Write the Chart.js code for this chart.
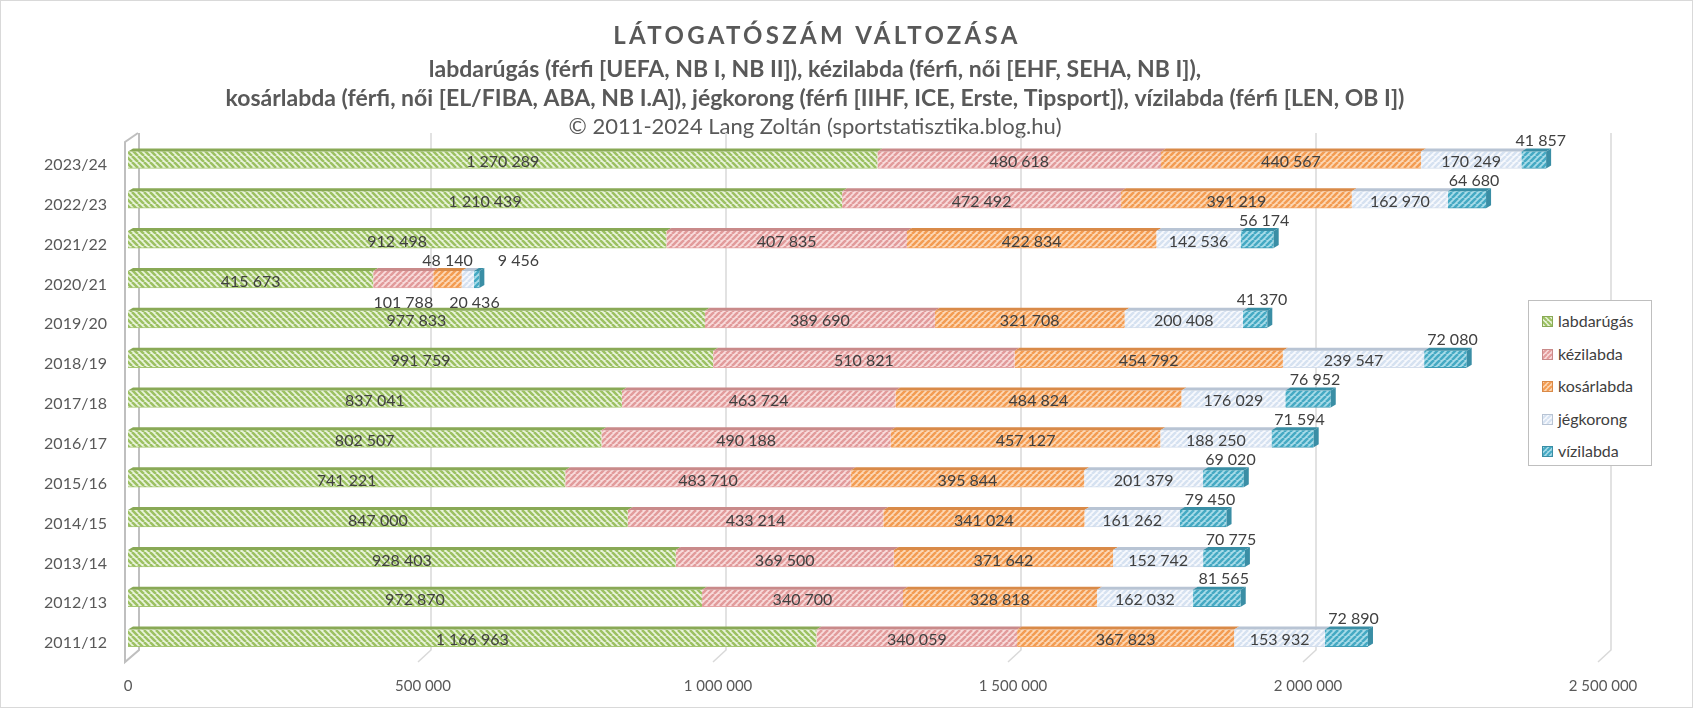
<!DOCTYPE html>
<html>
<head>
<meta charset="utf-8">
<script src="https://cdn.jsdelivr.net/npm/chart.js@4.4.1/dist/chart.umd.min.js"></script>
<style>
  html, body { margin: 0; padding: 0; background: #fff; }
  #wrap { position: relative; width: 1693px; height: 708px; }
  #legend { position: absolute; left: 1528px; top: 300px; width: 122px; height: 164px;
    border: 1.5px solid #bfbfbf; background: #fff; font-family: Lato, sans-serif; font-size: 16px; color: #404040; }
  .li { position: absolute; left: 13px; height: 20px; line-height: 20px; white-space: nowrap; }
  .li canvas { position: absolute; left: 0; top: 4px; }
  .li span { position: absolute; left: 16px; top: -1px; }
</style>
</head>
<body>
<div id="wrap">
  <canvas id="c" width="1693" height="708"></canvas>
  <div id="legend"></div>
</div>
<script>
// ---- data ----
const seasons = ['2023/24','2022/23','2021/22','2020/21','2019/20','2018/19','2017/18','2016/17','2015/16','2014/15','2013/14','2012/13','2011/12'];
const seriesNames = ['labdarúgás','kézilabda','kosárlabda','jégkorong','vízilabda'];
const labdarugas = [1270289,1210439,912498,415673,977833,991759,837041,802507,741221,847000,928403,972870,1166963];
const kezilabda  = [480618,472492,407835,101788,389690,510821,463724,490188,483710,433214,369500,340700,340059];
const kosarlabda = [440567,391219,422834,48140,321708,454792,484824,457127,395844,341024,371642,328818,367823];
const jegkorong  = [170249,162970,142536,20436,200408,239547,176029,188250,201379,161262,152742,162032,153932];
const vizilabda  = [41857,64680,56174,9456,41370,72080,76952,71594,69020,79450,70775,81565,72890];
const xTicks = [0,500000,1000000,1500000,2000000,2500000];
const titleText = 'LÁTOGATÓSZÁM VÁLTOZÁSA';
const subtitleLines = ['labdarúgás (férfi [UEFA, NB I, NB II]), kézilabda (férfi, női [EHF, SEHA, NB I]),',
  'kosárlabda (férfi, női [EL/FIBA, ABA, NB I.A]), jégkorong (férfi [IIHF, ICE, Erste, Tipsport]), vízilabda (férfi [LEN, OB I])'];
const copyrightText = '© 2011-2024 Lang Zoltán (sportstatisztika.blog.hu)';

// ---- styles ----
const FONT = 'Lato, "Open Sans", sans-serif';
const styles = [
  {bg:'#e9f3dc', fg:'#9cc162', dir:'\\', top:'#89a956', border:'#a3c56f'},
  {bg:'#f8dcdc', fg:'#e29b9b', dir:'/',  top:'#c98a8a', border:'#e2a3a3'},
  {bg:'#fcd8b6', fg:'#f39c52', dir:'/',  top:'#d98a48', border:'#f3a563'},
  {bg:'#f7f9fd', fg:'#d6e2f1', dir:'/',  top:'#b8c4d4', border:'#d3ddeb'},
  {bg:'#a9dce9', fg:'#45a9c3', dir:'/',  top:'#3a8ea5', border:'#3f9cb5', side:'#3a8ea5'}
];
function patCanvas(st, s) {
  const c = document.createElement('canvas'); c.width = s; c.height = s;
  const x = c.getContext('2d');
  x.fillStyle = st.bg; x.fillRect(0,0,s,s);
  x.strokeStyle = st.fg; x.lineWidth = s*0.42; x.beginPath();
  for (let k=-1;k<=1;k++) {
    if (st.dir === '/') { x.moveTo(k*s, s); x.lineTo(k*s+s, 0); }
    else { x.moveTo(k*s, 0); x.lineTo(k*s+s, s); }
  }
  x.stroke();
  return c;
}
const canvas = document.getElementById('c');
const ctx = canvas.getContext('2d');
const patterns = styles.map(st => ctx.createPattern(patCanvas(st, 6), 'repeat'));

const fmt = v => String(v).replace(/\B(?=(\d{3})+(?!\d))/g, ' ');

// ---- plugins ----
const frame = {
  id: 'frame',
  beforeDraw(chart) {
    const c = chart.ctx, W = chart.width, H = chart.height;
    c.save();
    c.fillStyle = '#fff'; c.fillRect(0,0,W,H);
    c.strokeStyle = '#d9d9d9'; c.lineWidth = 1; c.strokeRect(0.5,0.5,W-1,H-1);
    // titles
    c.fillStyle = '#595959'; c.textAlign = 'center'; c.textBaseline = 'middle';
    const cx = 815;
    c.font = 'bold 24px ' + FONT; c.letterSpacing = '3.3px';
    c.fillText(titleText, cx + 2, 36);
    c.letterSpacing = '0px';
    c.font = 'bold 23px ' + FONT;
    c.fillText(subtitleLines[0], cx, 70);
    c.fillText(subtitleLines[1], cx, 99);
    c.font = '22px ' + FONT;
    c.fillText(copyrightText, cx, 127);
    c.restore();
  },
  beforeDatasetsDraw(chart) {
    const c = chart.ctx, a = chart.chartArea, xs = chart.scales.x;
    c.save();
    c.strokeStyle = '#d9d9d9'; c.lineWidth = 1.5;
    xTicks.forEach(v => {
      if (v === 0) return;
      const X = xs.getPixelForValue(v);
      c.beginPath();
      c.moveTo(X+8, a.top-7); c.lineTo(X+8, a.bottom-8); c.lineTo(X-5, a.bottom+4);
      c.stroke();
    });
    // left wall
    const X0 = xs.getPixelForValue(0);
    c.strokeStyle = '#bfbfbf'; c.lineWidth = 2;
    c.beginPath();
    c.moveTo(X0+10, a.top-7); c.lineTo(X0-3, a.top+2); c.lineTo(X0-3, a.bottom+4);
    c.lineTo(X0+11, a.bottom-8); c.lineTo(X0+11, a.top-7);
    c.stroke();
    c.restore();
  },
  afterDatasetsDraw(chart) {
    const c = chart.ctx;
    const dx = 5, dy = 3;
    const n = chart.data.datasets.length;
    c.save();
    // 3D faces
    for (let i=0;i<n;i++) {
      const meta = chart.getDatasetMeta(i);
      meta.data.forEach(el => {
        const p = el.getProps(['x','y','base','height'], true);
        const l = Math.min(p.x,p.base), r = Math.max(p.x,p.base);
        const t = p.y - p.height/2, b = p.y + p.height/2;
        c.fillStyle = styles[i].top;
        c.beginPath(); c.moveTo(l,t); c.lineTo(l+dx,t-dy); c.lineTo(r+dx,t-dy); c.lineTo(r,t); c.closePath(); c.fill();
        if (i === n-1) {
          c.fillStyle = styles[i].side;
          c.beginPath(); c.moveTo(r,t); c.lineTo(r+dx,t-dy); c.lineTo(r+dx,b-dy); c.lineTo(r,b); c.closePath(); c.fill();
        }
      });
    }
    // labels
    c.font = '16px ' + FONT; c.fillStyle = '#404040'; c.textAlign = 'center'; c.textBaseline = 'middle';
    const rows = chart.data.labels.length;
    for (let j=0;j<rows;j++) {
      let below = true; let lastAboveRight = -Infinity, lastBelowRight = -Infinity;
      for (let i=0;i<n;i++) {
        const el = chart.getDatasetMeta(i).data[j];
        const p = el.getProps(['x','y','base','height'], true);
        const v = chart.data.datasets[i].data[j];
        const txt = fmt(v);
        const w = c.measureText(txt).width;
        const seg = Math.abs(p.x - p.base);
        let cx = (p.x + p.base)/2, cy = p.y + 2;
        if (i === n-1) {
          cx += 7; cy = p.y - 19;
          if (cx - w/2 < lastAboveRight + 25) cx = lastAboveRight + 25 + w/2;
        } else if (w + 6 > seg) {
          if (below) {
            cy = p.y + 23;
            if (cx - w/2 < lastBelowRight + 16) cx = lastBelowRight + 16 + w/2;
            lastBelowRight = cx + w/2;
          } else { cy = p.y - 19; lastAboveRight = cx + w/2; }
          below = !below;
        }
        c.fillText(txt, cx, cy);
      }
    }
    c.restore();
  }
};

const allSeries = [labdarugas, kezilabda, kosarlabda, jegkorong, vizilabda];
const chart = new Chart(canvas, {
  type: 'bar',
  data: {
    labels: seasons,
    datasets: allSeries.map((d,i) => ({
      label: seriesNames[i], data: d,
      backgroundColor: patterns[i],
      borderColor: styles[i].border,
      borderWidth: {top:0, bottom:1, left:0, right:0},
      borderSkipped: false,
      barThickness: 17
    }))
  },
  options: {
    indexAxis: 'y', responsive: false, animation: false,
    layout: { padding: { top: 140, right: 90, left: 0, bottom: 0 } },
    scales: {
      x: { stacked: true, min: 0, max: 2500000,
        afterBuildTicks: s => { s.ticks = xTicks.map(v => ({value: v})); },
        ticks: { callback: v => fmt(v), padding: 19, color: '#595959', font: {family: FONT, size: 15}, maxRotation: 0 },
        grid: { display: false, drawTicks: false }, border: { display: false },
        afterFit: s => { s.height = 50; } },
      y: { stacked: true,
        ticks: { padding: 21, labelOffset: 5, color: '#595959', font: {family: FONT, size: 16} },
        grid: { display: false, drawTicks: false }, border: { display: false },
        afterFit: s => { s.width = 128; } }
    },
    plugins: { legend: { display: false }, tooltip: { enabled: false } }
  },
  plugins: [frame]
});

// ---- legend (HTML) ----
const lg = document.getElementById('legend');
seriesNames.forEach((name, i) => {
  const d = document.createElement('div'); d.className = 'li'; d.style.top = (11 + i*32.5) + 'px';
  const sw = document.createElement('canvas'); sw.width = 11; sw.height = 11;
  const sx = sw.getContext('2d');
  sx.fillStyle = sx.createPattern(patCanvas(styles[i], 5), 'repeat'); sx.fillRect(0,0,11,11);
  sx.strokeStyle = styles[i].top; sx.lineWidth = 1; sx.strokeRect(0.5,0.5,10,10);
  const sp = document.createElement('span'); sp.textContent = name;
  d.appendChild(sw); d.appendChild(sp); lg.appendChild(d);
});
</script>
</body>
</html>
